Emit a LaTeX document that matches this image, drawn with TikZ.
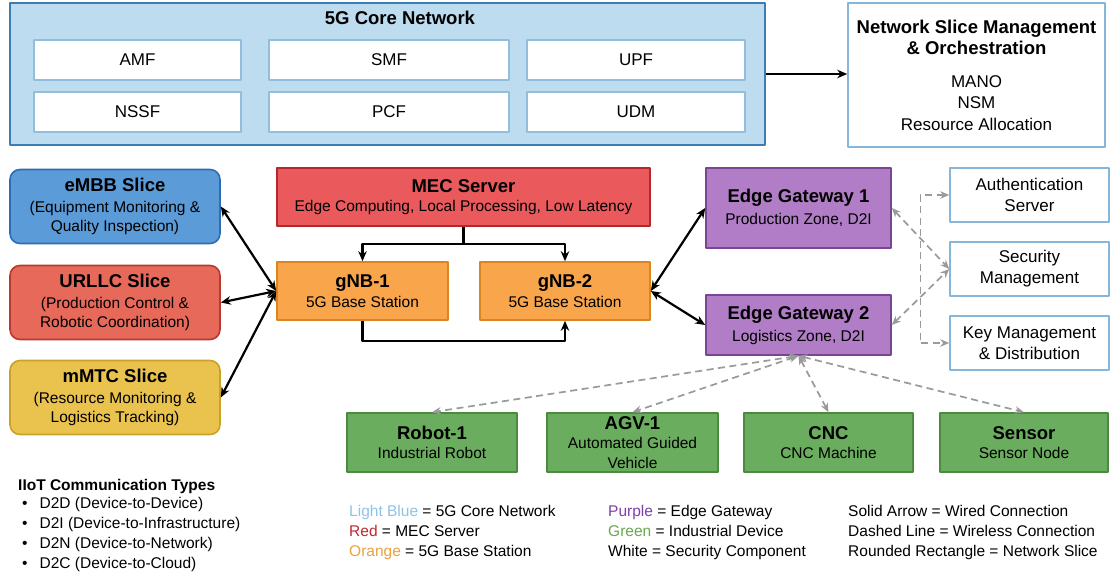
\documentclass[tikz,border=0pt]{standalone}
\usepackage{fontspec}
\setmainfont{Liberation Sans}
\usetikzlibrary{arrows.meta}
\definecolor{corefill}{HTML}{BDDCEF}
\definecolor{coreedge}{HTML}{3D7DB3}
\definecolor{nfedge}{HTML}{93BDDD}
\definecolor{secedge}{HTML}{86B7DA}
\definecolor{embbfill}{HTML}{5B9BD8}
\definecolor{embbedge}{HTML}{2E6DB4}
\definecolor{urllcfill}{HTML}{E6695A}
\definecolor{urllcedge}{HTML}{B83A2E}
\definecolor{mmtcfill}{HTML}{EAC24E}
\definecolor{mmtcedge}{HTML}{C9A227}
\definecolor{mecfill}{HTML}{EA5A5C}
\definecolor{mecedge}{HTML}{B3282C}
\definecolor{gnbfill}{HTML}{F8A54C}
\definecolor{gnbedge}{HTML}{DB8422}
\definecolor{egfill}{HTML}{B17DC6}
\definecolor{egedge}{HTML}{7A4595}
\definecolor{devfill}{HTML}{6BAD5E}
\definecolor{devedge}{HTML}{4C8A3F}
\definecolor{wgray}{HTML}{9A9A9A}
\definecolor{lgblue}{HTML}{8EC3E6}
\definecolor{lgred}{HTML}{C0282D}
\definecolor{lgorange}{HTML}{E8A33D}
\definecolor{lgpurple}{HTML}{7E3FA6}
\definecolor{lggreen}{HTML}{6AA84F}
\newcommand{\ttl}{\fontsize{18.5}{22}\selectfont\bfseries}
\newcommand{\bdy}{\fontsize{15.5}{19.5}\selectfont}
\newcommand{\wbdy}{\fontsize{17}{21}\selectfont}

\begin{document}
\begin{tikzpicture}[x=1pt, y=-1pt, line join=round,
  >={Stealth[length=10pt, width=8.5pt]},
  box/.style={draw, line width=1.6pt, align=center, inner sep=0pt, font=\bdy},
  nfbox/.style={box, draw=nfedge, fill=white, minimum height=40, font=\wbdy},
  secbox/.style={box, draw=secedge, fill=white, minimum width=159, minimum height=54, font=\wbdy},
  slice/.style={box, rounded corners=10pt, minimum width=210, minimum height=74},
  gnb/.style={box, draw=gnbedge, fill=gnbfill, minimum height=58},
  gw/.style={box, draw=egedge, fill=egfill, minimum width=185},
  dev/.style={box, draw=devedge, fill=devfill, minimum height=59},
  wired/.style={line width=2.2pt, black},
  wless/.style={line width=1.7pt, wgray, dash pattern=on 7pt off 4.5pt,
    >={Stealth[length=9pt, width=7.5pt]}},
  legend/.style={anchor=north west, align=left, inner sep=0pt, font=\fontsize{15.5}{20}\selectfont}]
  \fill[white] (0,0) rectangle (1115,572);
  \useasboundingbox (0,0) rectangle (1115,572);

  % ---------- core network ----------
  \node[box, draw=coreedge, fill=corefill, minimum width=755, minimum height=142] (core) at (387.5,74) {};
  \node[font=\ttl] (coretitle) at (400,18) {5G Core Network};
  \node[nfbox, minimum width=207] (amf) at (137.5,60) {AMF};
  \node[nfbox, minimum width=240] (smf) at (389,60) {SMF};
  \node[nfbox, minimum width=218] (upf) at (636,60) {UPF};
  \node[nfbox, minimum width=207] (nssf) at (137.5,112) {NSSF};
  \node[nfbox, minimum width=240] (pcf) at (389,112) {PCF};
  \node[nfbox, minimum width=218] (udm) at (636,112) {UDM};
  \node[box, draw=secedge, fill=white, minimum width=257, minimum height=144, font=\fontsize{17}{21.5}\selectfont] (nsm) at (976.5,75)
    {\ttl Network Slice Management\\ \ttl \& Orchestration\\[11pt] MANO\\ NSM\\ Resource Allocation};
  \draw[wired, ->] (core.east) -- (core.east -| nsm.west);

  % ---------- slices ----------
  \node[slice, draw=embbedge, fill=embbfill] (embb) at (115,206.5)
    {\ttl eMBB Slice\\[1.5pt] (Equipment Monitoring \&\\ Quality Inspection)};
  \node[slice, draw=urllcedge, fill=urllcfill] (urllc) at (115,302.5)
    {\ttl URLLC Slice\\[1.5pt] (Production Control \&\\ Robotic Coordination)};
  \node[slice, draw=mmtcedge, fill=mmtcfill] (mmtc) at (115,397.5)
    {\ttl mMTC Slice\\[1.5pt] (Resource Monitoring \&\\ Logistics Tracking)};

  % ---------- MEC and base stations ----------
  \node[box, draw=mecedge, fill=mecfill, minimum width=373, minimum height=58] (mec) at (463.5,197)
    {\ttl MEC Server\\ Edge Computing, Local Processing, Low Latency};
  \node[gnb, minimum width=171] (gnb1) at (362.5,291) {\ttl gNB-1\\ 5G Base Station};
  \node[gnb, minimum width=170] (gnb2) at (565,291) {\ttl gNB-2\\ 5G Base Station};
  \draw[wired] (mec.south) -- ++(0,17) coordinate (mecsplit);
  \draw[wired, ->] (mecsplit) -| (gnb1.north);
  \draw[wired, ->] (mecsplit) -| (gnb2.north);
  \draw[wired, ->] (gnb1.south) -- ++(0,20) -| (gnb2.south);
  \draw[wired, <->] (embb.east) -- (gnb1.west);
  \draw[wired, <->] (urllc.east) -- (gnb1.west);
  \draw[wired, <->] (mmtc.east) -- (gnb1.west);

  % ---------- gateways and security ----------
  \node[gw, minimum height=80] (eg1) at (798.5,208) {\ttl Edge Gateway 1\\[2.5pt] Production Zone, D2I};
  \node[gw, minimum height=60] (eg2) at (798.5,325) {\ttl Edge Gateway 2\\[2.5pt] Logistics Zone, D2I};
  \draw[wired, <->] (gnb2.east) -- (eg1.west);
  \draw[wired, <->] (gnb2.east) -- (eg2.west);
  \node[secbox] (auth) at (1029.5,195) {Authentication\\ Server};
  \node[secbox] (secm) at (1029.5,269) {Security\\ Management};
  \node[secbox] (keym) at (1029.5,343) {Key Management\\ \& Distribution};
  \draw[wless, line width=1.3pt, <->] (auth.west) -- ++(-29,0) |- (keym.west);
  \draw[wless, <->] (eg1.east) -- (secm.west);
  \draw[wless, <->] (eg2.east) -- (secm.west);

  % ---------- industrial devices ----------
  \node[dev, minimum width=170] (robot) at (432,442.5) {\ttl Robot-1\\ Industrial Robot};
  \node[dev, minimum width=171] (agv) at (632.5,442.5) {\ttl AGV-1\\ Automated Guided\\ Vehicle};
  \node[dev, minimum width=169] (cnc) at (828.5,442.5) {\ttl CNC\\ CNC Machine};
  \node[dev, minimum width=168] (sensor) at (1024,442.5) {\ttl Sensor\\ Sensor Node};
  \foreach \d in {robot, agv, cnc, sensor}
    \draw[wless, <->] (eg2.south) -- (\d.north);

  % ---------- legends ----------
  \node[legend] (types) at (18,479)
    {\bfseries IIoT Communication Types\\[-2pt]
     \hspace{4pt}\textbullet\hspace{12pt}D2D (Device-to-Device)\\
     \hspace{4pt}\textbullet\hspace{12pt}D2I (Device-to-Infrastructure)\\
     \hspace{4pt}\textbullet\hspace{12pt}D2N (Device-to-Network)\\
     \hspace{4pt}\textbullet\hspace{12pt}D2C (Device-to-Cloud)};
  \node[legend] (colsa) at (349,505)
    {\textcolor{lgblue}{Light Blue} = 5G Core Network\\
     \textcolor{lgred}{Red} = MEC Server\\
     \textcolor{lgorange}{Orange} = 5G Base Station};
  \node[legend] (colsb) at (608,505)
    {\textcolor{lgpurple}{Purple} = Edge Gateway\\
     \textcolor{lggreen}{Green} = Industrial Device\\
     White = Security Component};
  \node[legend] (lines) at (848,505)
    {Solid Arrow = Wired Connection\\
     Dashed Line = Wireless Connection\\
     Rounded Rectangle = Network Slice};
\end{tikzpicture}
\end{document}
